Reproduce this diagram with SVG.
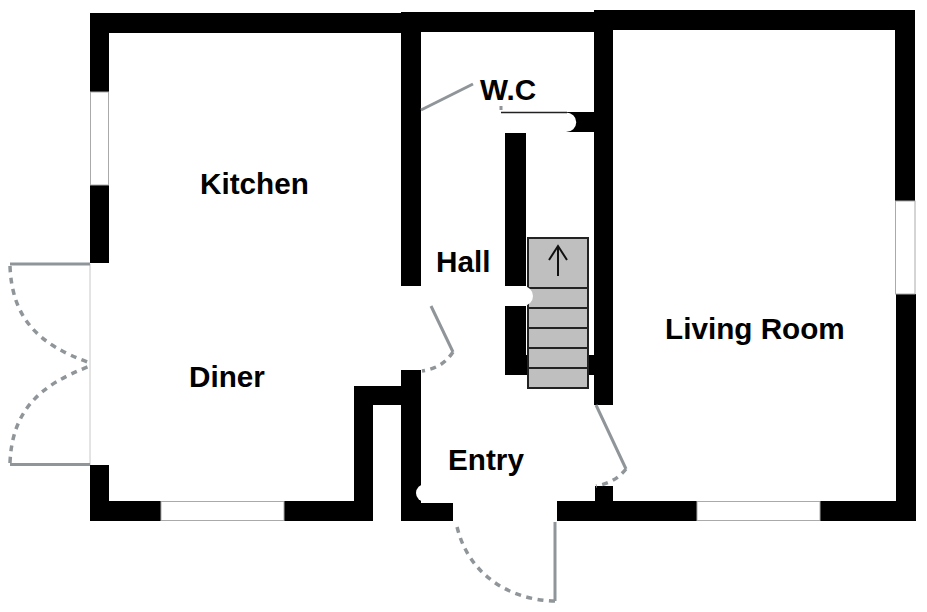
<svg xmlns="http://www.w3.org/2000/svg" width="927" height="612" viewBox="0 0 927 612">
<style>
.w{fill:#000}
.win{fill:#fff;stroke:#aaa;stroke-width:1}
.door{fill:none;stroke:#8f9599;stroke-width:3}
.sw{fill:none;stroke:#8f9599;stroke-width:3.500;stroke-dasharray:6 5.500}
.st{fill:#bfbfbf;stroke:#222;stroke-width:2}
.l{font-family:"Liberation Sans",Arial,sans-serif;font-weight:bold;font-size:29.700px;fill:#000}
</style>
<rect width="927" height="612" fill="#fff"/>
<g id="walls">
<rect class="w" x="90" y="13" width="311" height="20"/>
<rect class="w" x="401" y="12" width="194" height="20"/>
<rect class="w" x="594" y="10" width="321" height="20"/>
<rect class="w" x="90" y="13" width="19" height="250"/>
<rect class="w" x="90" y="465" width="19" height="56"/>
<rect class="w" x="90" y="501" width="283" height="20"/>
<rect class="w" x="354" y="386" width="19" height="135"/>
<rect class="w" x="354" y="386" width="66" height="19"/>
<rect class="w" x="401" y="13" width="20" height="273"/>
<rect class="w" x="401" y="370" width="20" height="151"/>
<rect class="w" x="401" y="503" width="52" height="18"/>
<rect class="w" x="557" y="501" width="359" height="20"/>
<rect class="w" x="595" y="486" width="18" height="20"/>
<rect class="w" x="594" y="12" width="19" height="393"/>
<rect class="w" x="895" y="10" width="20" height="191"/>
<rect class="w" x="896" y="294" width="20" height="227"/>
<rect class="w" x="560" y="112" width="40" height="20"/>
<rect class="w" x="505" y="133" width="21" height="153"/>
<rect class="w" x="505" y="306" width="21" height="69"/>
<rect class="w" x="505" y="355" width="26" height="20"/>
<rect class="w" x="586" y="355" width="10" height="20"/>
<circle cx="425" cy="493" r="9" fill="#fff"/>
<rect x="425" y="484" width="28" height="19" fill="#fff"/>
<path d="M501 112.500H566a10 9.500 0 0 1 0 19.500H526V112.500Z" fill="#fff"/>
<path d="M501 112.500H567" fill="none" stroke="#222" stroke-width="1.500"/>
</g>
<g id="windows">
<rect class="win" x="90.500" y="92" width="18" height="93"/>
<rect class="win" x="161" y="501.500" width="123" height="19"/>
<rect class="win" x="895.500" y="201" width="19.500" height="93"/>
<rect class="win" x="697" y="501.500" width="123" height="19"/>
</g>
<g id="stairs">
<rect class="st" x="528" y="238" width="60" height="150"/>
<path class="st" d="M528 288H588M528 308H588M528 328H588M528 348H588M528 368H588"/>
<path d="M558 276V246M549 260L558 246L567 260" fill="none" stroke="#111" stroke-width="2"/>
<path d="M505 286H523a10 10 0 0 1 0 20H505Z" fill="#fff"/>
</g>
<g id="doors">
<path d="M90 264V465" fill="none" stroke="#c8c8c8" stroke-width="1"/>
<path class="door" d="M10 264H90M10 464.500H90"/>
<path class="sw" d="M10 266C12 320 40 345 90 363"/>
<path class="sw" d="M10 463C12 410 40 385 90 366"/>
<path class="door" d="M421 110L473 84"/>
<path class="door" d="M501 106V110"/>
<path class="door" d="M431 306L453 352"/>
<path class="sw" d="M453 352C445 364 435 369 422 371"/>
<path class="door" d="M596 405L626 469"/>
<path class="sw" d="M626 469C618 479 608 484 596 486"/>
<path class="door" d="M555 522V601"/>
<path class="sw" d="M555 601C505 600 465 570 456 522"/>
</g>
<g id="labels">
<text class="l" x="200" y="194">Kitchen</text>
<text class="l" x="189" y="387">Diner</text>
<text class="l" x="436" y="272">Hall</text>
<text class="l" x="448" y="470">Entry</text>
<text class="l" x="665" y="339">Living Room</text>
<text class="l" x="480" y="100">W.C</text>
</g>
</svg>
